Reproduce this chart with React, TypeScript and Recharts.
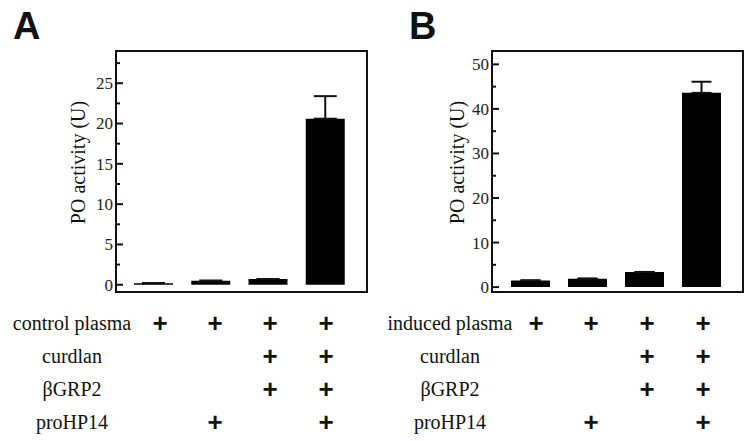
import * as Recharts from 'recharts';
import { BarChart, Bar, XAxis, YAxis, ErrorBar } from 'recharts';

// panel A: control plasma
const lanes = ['1', '2', '3', '4'];
const activityA = [0.2, 0.5, 0.7, 20.6];
const errorA = [0, 0, 0, 2.8];
const ticksA = [0, 2.5, 5, 7.5, 10, 12.5, 15, 17.5, 20, 22.5, 25, 27.5];
const labelsA = [0, 5, 10, 15, 20, 25];

// panel B: induced plasma
const activityB = [1.5, 1.9, 3.4, 43.6];
const errorB = [0, 0, 0, 2.5];
const ticksB = [0, 5, 10, 15, 20, 25, 30, 35, 40, 45, 50];
const labelsB = [0, 10, 20, 30, 40, 50];

// treatment table
const rowNames = ['curdlan', 'βGRP2', 'proHP14'];
const plasmaAdded = [true, true, true, true];
const curdlanAdded = [false, false, true, true];
const bgrpAdded = [false, false, true, true];
const prohpAdded = [false, true, false, true];

const SERIF = '"Liberation Serif", "Times New Roman", serif';
const SANS = '"Liberation Sans", Arial, sans-serif';
const INK = '#111';

const usePlotArea: (() => any) | undefined = (Recharts as any).usePlotArea;

// box around the plot area, sized by the chart itself
function Frame() {
  const area = usePlotArea ? usePlotArea() : null;
  if (!area) return null;
  return <rect x={area.x} y={area.y} width={area.width} height={area.height} fill="none" stroke={INK} strokeWidth={2} />;
}

const buildRows = (values: number[], errors: number[]) =>
  lanes.map((lane, i) => ({ lane, value: values[i], err: [0, errors[i]] }));

function makeTick(labeled: number[]) {
  return (props: any) => {
    const { x, y, payload } = props;
    const major = labeled.includes(Number(payload.value));
    return (
      <g>
        <line x1={x} x2={x + (major ? 7 : 4)} y1={y} y2={y} stroke={INK} strokeWidth={2} />
        {major && (
          <text
            x={x - 3}
            y={y}
            dy="0.35em"
            textAnchor="end"
            style={{ fontFamily: SERIF, fontSize: 17, fill: '#222' }}
          >
            {payload.value}
          </text>
        )}
      </g>
    );
  };
}

interface PanelProps {
  left: number;
  values: number[];
  errors: number[];
  ticks: number[];
  labeled: number[];
  domain: [number, number];
  axisWidth: number;
  pad: { left: number; right: number };
  labelDx: number;
  capHalf: number;
}

function Panel({ left, values, errors, ticks, labeled, domain, axisWidth, pad, labelDx, capHalf }: PanelProps) {
  const data = buildRows(values, errors);
  return (
    <div style={{ position: 'absolute', left, top: 0 }}>
      <BarChart width={375} height={300} data={data} margin={{ top: 51, right: 375 - axisWidth - 251, bottom: 8, left: 0 }}>
        <XAxis
          dataKey="lane"
          tick={false}
          tickLine={false}
          height={0}
          padding={pad}
          axisLine={{ stroke: INK, strokeWidth: 2 }}
        />
        <YAxis
          domain={domain}
          ticks={ticks}
          interval={0}
          allowDataOverflow
          width={axisWidth}
          tickSize={0}
          tickMargin={0}
          tickLine={false}
          tick={makeTick(labeled)}
          axisLine={{ stroke: INK, strokeWidth: 2 }}
          label={{
            value: 'PO activity (U)',
            angle: -90,
            position: 'center',
            dx: labelDx,
            dy: -9,
            style: { fontFamily: SERIF, fontSize: 20, fill: INK },
          }}
        />
        <Bar dataKey="value" fill="#000" barSize={39} isAnimationActive={false}>
          <ErrorBar dataKey="err" width={capHalf} stroke={INK} strokeWidth={2} direction="y" isAnimationActive={false} />
        </Bar>
        <Frame />
      </BarChart>
    </div>
  );
}

function Table({ left, first, labelCenter, cols }: { left: number; first: string; labelCenter: number; cols: number[] }) {
  const rowY = [324, 357, 390, 423];
  const marks = [plasmaAdded, curdlanAdded, bgrpAdded, prohpAdded];
  const names = [first, ...rowNames];
  return (
    <div style={{ position: 'absolute', left, top: 0 }}>
      {names.map((name, r) => (
        <div key={name}>
          <div
            style={{
              position: 'absolute',
              left: labelCenter - 100,
              width: 200,
              top: rowY[r] - 11,
              height: 20,
              lineHeight: '20px',
              textAlign: 'center',
              fontFamily: SERIF,
              fontSize: 20,
              color: INK,
              whiteSpace: 'nowrap',
            }}
          >
            {name}
          </div>
          {marks[r].map((on, c) =>
            on ? (
              <div
                key={c}
                style={{
                  position: 'absolute',
                  left: cols[c] - 15,
                  width: 30,
                  top: rowY[r] - 14,
                  height: 26,
                  lineHeight: '26px',
                  textAlign: 'center',
                  fontFamily: SANS,
                  fontWeight: 'bold',
                  fontSize: 26,
                  color: INK,
                }}
              >
                +
              </div>
            ) : null
          )}
        </div>
      ))}
    </div>
  );
}

export default function App() {
  return (
    <div style={{ position: 'absolute', left: 0, top: 0, width: 750, height: 441, background: '#fff', overflow: 'hidden' }}>
      <div style={{ position: 'absolute', left: 13, top: 7, fontFamily: SANS, fontWeight: 'bold', fontSize: 38, lineHeight: 1, color: INK }}>A</div>
      <div style={{ position: 'absolute', left: 409, top: 7, fontFamily: SANS, fontWeight: 'bold', fontSize: 38, lineHeight: 1, color: INK }}>B</div>
      <Panel
        left={0}
        values={activityA}
        errors={errorA}
        ticks={ticksA}
        labeled={labelsA}
        domain={[-0.9, 29]}
        axisWidth={116}
        pad={{ left: 9, right: 13 }}
        labelDx={20}
        capHalf={11.5}
      />
      <Panel
        left={375}
        values={activityB}
        errors={errorB}
        ticks={ticksB}
        labeled={labelsB}
        domain={[-1.1, 53]}
        axisWidth={117}
        pad={{ left: 10, right: 13 }}
        labelDx={23}
        capHalf={10}
      />
      <Table left={0} first="control plasma" labelCenter={72} cols={[160, 215, 270, 326]} />
      <Table left={375} first="induced plasma" labelCenter={75} cols={[161, 216, 272, 328]} />
    </div>
  );
}
